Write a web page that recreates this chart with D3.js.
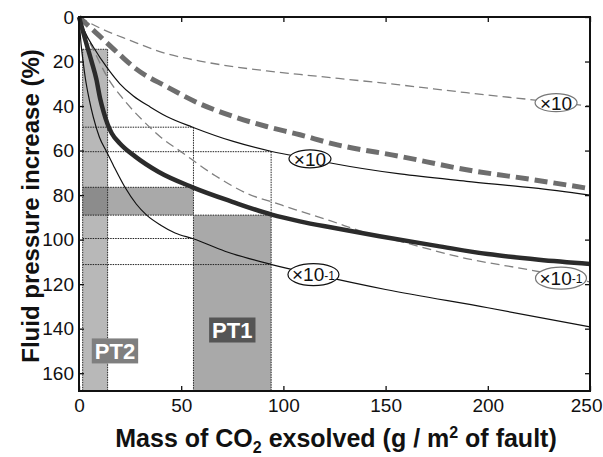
<!DOCTYPE html>
<html>
<head>
<meta charset="utf-8">
<script src="https://cdn.jsdelivr.net/npm/d3@7"></script>
<style>
  body { margin: 0; background: white; }
  text { font-family: "Liberation Sans", Arial, Helvetica, sans-serif; }
</style>
</head>
<body>
<svg id="chart" width="603" height="457"></svg>
<script>
// curves: [mass g/m2, pressure increase %]
const thickSolid = [[0,0],[3,10],[6,19.5],[8.5,28],[10.3,36.5],[12,42.5],[14,48.2],[16,52.2],[20,56.8],[27.4,62.6],[38.8,69.5],[55.6,76.5],[75,83],[94.3,88.8],[108,91.8],[125,94.8],[147,98.5],[175,102.8],[200,106.5],[225,109],[250,110.9]];
const solidX10 = [[0,0],[3,7],[7,13.5],[13.9,23],[20,30],[26.6,35.5],[35,40.5],[42.9,44.7],[55.6,49.5],[75.5,55.9],[94.3,60.4],[113,63.7],[124.4,65.8],[157,70.5],[189.6,73.8],[222.3,76.8],[250,80]];
const solidX10m1 = [[0,0],[1,12],[2,20],[3.1,27.5],[5,37],[7,45],[10,54],[13.5,60.5],[17,67],[22.5,76.5],[28,84],[33.1,89],[40,93.5],[47,97],[55.9,99.6],[71.4,105.2],[94.3,111.2],[114.7,115.5],[150,122.4],[200,130.6],[250,139.2]];
const thickDashed = [[0,0],[10,8.5],[20,17],[27.9,23.3],[42.9,31.3],[59.2,39],[75.5,44.7],[91.8,49.2],[108.1,52.9],[124.4,57],[157,62.6],[189.6,68.6],[222.3,73.1],[250,77.1]];
const dashedX10 = [[0,0],[10.3,5],[25,10.5],[42.9,16.5],[59.2,19.8],[75.5,22.3],[91.8,24.2],[108,25.8],[157,30.5],[189.6,34],[222,37.2],[250,40]];
const dashedX10m1 = [[0,0],[3,7],[8.3,17],[14.8,28.5],[20,35],[27,42.5],[30.7,46],[40,54],[50.2,60.7],[66.5,71.2],[82.8,79.5],[95.9,83.5],[105.7,86.5],[122.8,91.5],[140.7,97],[157,100.8],[189.6,108.5],[222.3,113.9],[250,119]];

// shaded ranges (data units)
const pt2Mass = [1.8, 14];
const pt1Mass = [56, 94];
const bandPressure = [76.5, 89];
const pt2Top = 14.5;

// dotted guide lines: vertical [x, y0, y1], horizontal [y, x0, x1]
const guideV = [[1.8, 14.5, 168], [14, 14.5, 168], [56, 49.5, 168], [94, 60.5, 168]];
const guideH = [[14.5, 1.8, 14], [49.5, 1.8, 56], [60.5, 1.8, 94], [76.5, 1.8, 56], [89, 1.8, 94], [99.5, 1.8, 56], [111.2, 1.8, 94]];

// curve labels: [x, y, main, superscript, outline]
const curveLabels = [
  [233.4, 38.5, "×10", "", "#777"],
  [113, 63.7, "×10", "", "#111"],
  [114.7, 115.7, "×10", "-1", "#111"],
  [235.8, 117.3, "×10", "-1", "#777"]
];

const xTicks = [0, 50, 100, 150, 200, 250];
const yTicks = [0, 20, 40, 60, 80, 100, 120, 140, 160];

const svg = d3.select("#chart");
const x = d3.scaleLinear().domain([0, 250]).range([79, 590]);
const y = d3.scaleLinear().domain([0, 168]).range([17, 391]);

// gray areas
const g = svg.append("g");
g.append("rect").attr("x", x(pt2Mass[0])).attr("y", y(pt2Top))
  .attr("width", x(pt2Mass[1]) - x(pt2Mass[0])).attr("height", y(168) - y(pt2Top))
  .attr("fill", "#b8b8b8");
g.append("rect").attr("x", x(pt2Mass[1])).attr("y", y(bandPressure[0]))
  .attr("width", x(pt1Mass[0]) - x(pt2Mass[1])).attr("height", y(bandPressure[1]) - y(bandPressure[0]))
  .attr("fill", "#a9a9a9");
g.append("rect").attr("x", x(pt2Mass[0])).attr("y", y(bandPressure[0]))
  .attr("width", x(pt2Mass[1]) - x(pt2Mass[0])).attr("height", y(bandPressure[1]) - y(bandPressure[0]))
  .attr("fill", "#8c8c8c");
g.append("rect").attr("x", x(pt1Mass[0])).attr("y", y(bandPressure[1]))
  .attr("width", x(pt1Mass[1]) - x(pt1Mass[0])).attr("height", y(168) - y(bandPressure[1]))
  .attr("fill", "#a9a9a9");

// guides
g.selectAll(".gv").data(guideV).join("line")
  .attr("x1", d => x(d[0])).attr("x2", d => x(d[0]))
  .attr("y1", d => y(d[1])).attr("y2", d => y(d[2]))
  .attr("stroke", "#222").attr("stroke-width", 1).attr("stroke-dasharray", "1.5,1");
g.selectAll(".gh").data(guideH).join("line")
  .attr("y1", d => y(d[0])).attr("y2", d => y(d[0]))
  .attr("x1", d => x(d[1])).attr("x2", d => x(d[2]))
  .attr("stroke", "#222").attr("stroke-width", 1).attr("stroke-dasharray", "1.5,1");

// curves
const line = d3.line().x(d => x(d[0])).y(d => y(d[1])).curve(d3.curveMonotoneX);
const curves = [
  [dashedX10, "#808080", 1.3, "9,5"],
  [dashedX10m1, "#808080", 1.3, "9,5"],
  [thickDashed, "#6e6e6e", 5, "13,6"],
  [solidX10, "#111", 1.2, null],
  [solidX10m1, "#111", 1.2, null],
  [thickSolid, "#2b2b2b", 4.5, null]
];
curves.forEach(c => {
  svg.append("path").datum(c[0]).attr("d", line)
    .attr("fill", "none").attr("stroke", c[1]).attr("stroke-width", c[2])
    .attr("stroke-dasharray", c[3]);
});

// PT boxes
function ptLabel(txt, cx, cy, fill) {
  const t = svg.append("text").attr("x", cx).attr("y", cy).attr("dy", "0.36em")
    .attr("text-anchor", "middle").attr("font-size", 22).attr("font-weight", "bold")
    .attr("fill", "white").text(txt);
  const b = t.node().getBBox();
  svg.insert("rect", () => t.node()).attr("x", b.x - 3).attr("y", cy - 12.5)
    .attr("width", b.width + 6).attr("height", 25).attr("fill", fill);
}
ptLabel("PT1", x(75), y(140.6), "#555");
ptLabel("PT2", x(17.6), y(150), "#7f7f7f");

// curve labels
curveLabels.forEach(l => {
  const lg = svg.append("g").attr("transform", `translate(${x(l[0])},${y(l[1])})`);
  lg.append("ellipse").attr("rx", l[3] ? 25.5 : 21).attr("ry", l[3] ? 11 : 9)
    .attr("fill", "white").attr("stroke", l[4]).attr("stroke-width", 1.2);
  const t = lg.append("text").attr("text-anchor", "middle").attr("dy", "0.36em")
    .attr("font-size", 19).attr("fill", "#111");
  t.append("tspan").text(l[2]);
  if (l[3]) t.append("tspan").attr("font-size", 12).attr("dy", "-0.15em").text(l[3]);
});

// axes
const axB = svg.append("g").attr("transform", "translate(0,391)")
  .call(d3.axisBottom(x).tickValues(xTicks).tickSizeInner(-5).tickSizeOuter(0).tickPadding(8));
const axT = svg.append("g").attr("transform", "translate(0,17)")
  .call(d3.axisTop(x).tickValues(xTicks).tickSizeInner(-5).tickSizeOuter(0).tickFormat(""));
const axL = svg.append("g").attr("transform", "translate(79,0)")
  .call(d3.axisLeft(y).tickValues(yTicks).tickSizeInner(-5).tickSizeOuter(0).tickPadding(5));
const axR = svg.append("g").attr("transform", "translate(590,0)")
  .call(d3.axisRight(y).tickValues(yTicks).tickSizeInner(-5).tickSizeOuter(0).tickFormat(""));
[axB, axT, axL, axR].forEach(a => {
  a.select(".domain").remove();
  a.selectAll("line").attr("stroke", "#111").attr("stroke-width", 1.3);
  a.selectAll("text").attr("font-size", 19).attr("fill", "#111")
    .style("font-family", "'Liberation Sans', Arial, sans-serif");
});
// keep the last x label inside the window
axB.selectAll(".tick text").filter(d => d === 250).attr("text-anchor", "end").attr("x", 12);

svg.append("rect").attr("x", 79).attr("y", 17).attr("width", 511).attr("height", 374)
  .attr("fill", "none").attr("stroke", "#111").attr("stroke-width", 2);

// axis titles
const xt = svg.append("text").attr("x", 336).attr("y", 447).attr("text-anchor", "middle")
  .attr("font-size", 25).attr("font-weight", "bold").attr("fill", "#111");
xt.append("tspan").text("Mass of CO");
xt.append("tspan").attr("font-size", 16).attr("dy", 6).text("2");
xt.append("tspan").attr("dy", -6).text(" exsolved (g / m");
xt.append("tspan").attr("font-size", 16).attr("dy", -9).text("2");
xt.append("tspan").attr("dy", 9).text(" of fault)");

svg.append("text").attr("transform", "translate(39,206) rotate(-90)")
  .attr("text-anchor", "middle").attr("font-size", 24).attr("font-weight", "bold")
  .attr("fill", "#111").text("Fluid pressure increase (%)");
</script>
</body>
</html>
